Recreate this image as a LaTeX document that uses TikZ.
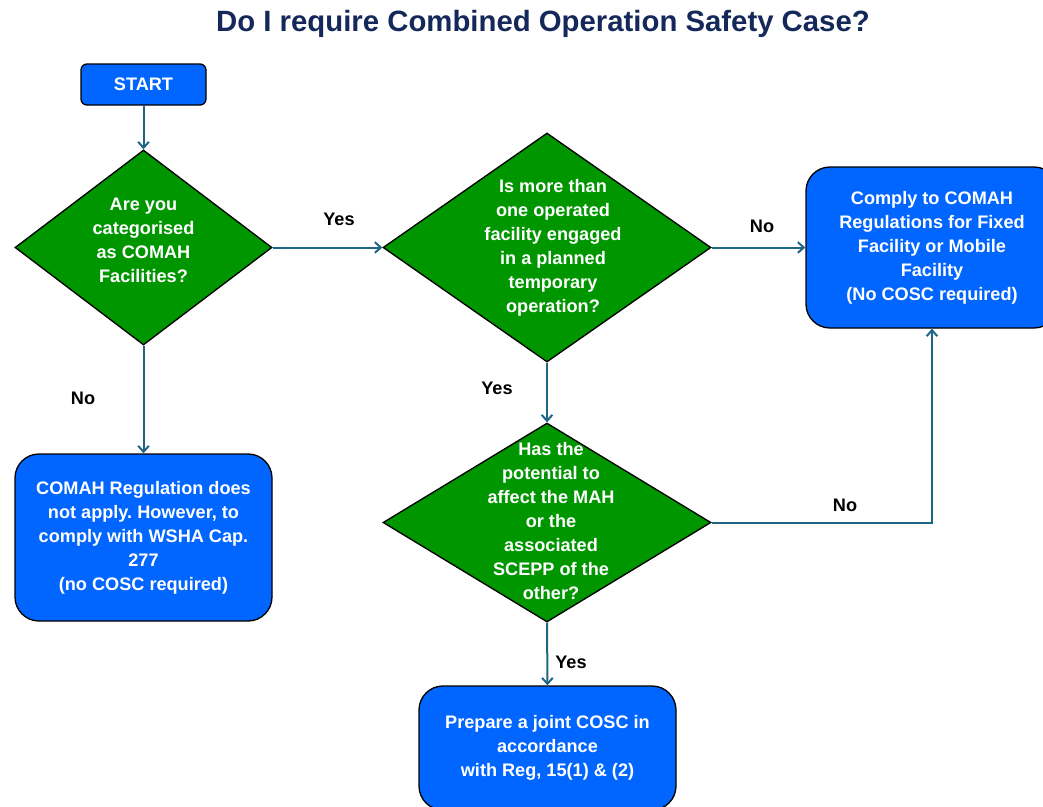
\documentclass[tikz,border=0pt]{standalone}
\usepackage{fontspec}
\setmainfont{Liberation Sans}
\usetikzlibrary{shapes.geometric,arrows.meta}
\definecolor{boxblue}{HTML}{0066FF}
\definecolor{dgreen}{HTML}{009600}
\definecolor{arrowc}{HTML}{1F6685}
\definecolor{titlec}{HTML}{14285A}
\frenchspacing
\begin{document}
\begin{tikzpicture}[x=0.75pt,y=-0.75pt,
  box/.style={rectangle, draw=black, line width=1pt, fill=boxblue, text=white,
    font=\bfseries\fontsize{13.6}{18}\selectfont, align=center, inner sep=0pt},
  dia/.style={diamond, draw=black, line width=1pt, fill=dgreen, inner sep=0pt},
  diatext/.style={text=white, font=\bfseries\fontsize{13.6}{18}\selectfont, align=center, inner sep=0pt},
  lbl/.style={text=black, font=\bfseries\fontsize{13.6}{15}\selectfont, inner sep=0pt},
  arr/.style={draw=arrowc, line width=1.5pt, -{Straight Barb[length=4.5pt,width=8pt,line width=1.5pt]}}
]
\useasboundingbox (0,0) rectangle (1043,807);
\clip (0,0) rectangle (1043,807);

\node[text=titlec, font=\bfseries\fontsize{22}{24}\selectfont, inner sep=0pt] (title) at (543,24) {Do I require Combined Operation Safety Case?};

\node[box, rounded corners=4.5pt, minimum width=93.75pt, minimum height=30.75pt] (start) at (143.5,84.5) {START};

\node[dia, minimum width=192.75pt, minimum height=146.25pt] (d1) at (143.5,247.5) {};
\node[diatext] (t1) at (143.5,240) {Are you\\categorised\\as COMAH\\Facilities?};

\node[dia, minimum width=246pt, minimum height=171.75pt] (d2) at (547,247.5) {};
\node[diatext] (t2) at (553,248) {Is more than\\one operated\\facility engaged\\in a planned\\temporary\\operation?};

\node[dia, minimum width=246pt, minimum height=149.25pt] (d3) at (547,522.5) {};
\node[diatext] (t3) at (551,521) {Has the\\potential to\\affect the MAH\\or the\\associated\\SCEPP of the\\other?};

\node[box, rounded corners=18pt, minimum width=189pt, minimum height=120.75pt] (rbox) at (932,247.5) {Comply to COMAH\\Regulations for Fixed\\Facility or Mobile\\Facility\\(No COSC required)};

\node[box, rounded corners=18pt, minimum width=192.75pt, minimum height=125.25pt] (lbox) at (143.5,537.5) {COMAH Regulation does\\not apply. However, to\\comply with WSHA Cap.\\277\\(no COSC required)};

\node[box, rounded corners=18pt, minimum width=192.75pt, minimum height=93pt] (bbox) at (547.5,748) {Prepare a joint COSC in\\accordance\\with Reg, 15(1) \& (2)};

\draw[arr] (start.south) -- (d1.north);
\draw[arr] (d1.east) -- (d2.west);
\node[lbl] (yes1) at (339,219) {Yes};
\draw[arr] (d2.east) -- (rbox.west);
\node[lbl] (no1) at (762,226) {No};
\draw[arr] (d1.south) -- (lbox.north);
\node[lbl] (no2) at (83,398) {No};
\draw[arr] (d2.south) -- (d3.north);
\node[lbl] (yes2) at (497,388) {Yes};
\draw[arr] (d3.east) -| (rbox.south);
\node[lbl] (no3) at (845,505) {No};
\draw[arr] (d3.south) -- (bbox.north);
\node[lbl] (yes3) at (571,662) {Yes};
\end{tikzpicture}
\end{document}
